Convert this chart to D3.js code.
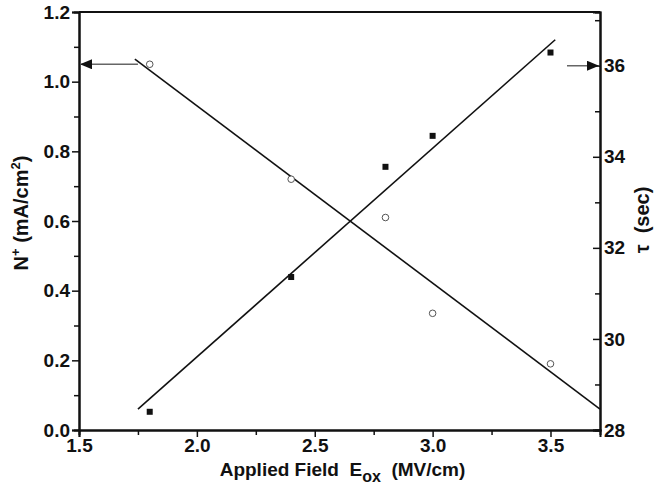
<!DOCTYPE html>
<html>
<head>
<meta charset="utf-8">
<script src="https://cdn.jsdelivr.net/npm/d3@7"></script>
<style>
body { margin: 0; background: #fff; }
svg { font-family: "Liberation Sans", Arial, sans-serif; }
</style>
</head>
<body>
<div id="chart"></div>
<script>
// data
var fieldX = [1.8, 2.4, 2.8, 3.0, 3.5];
var nPlus = [1.05, 0.72, 0.61, 0.335, 0.19];      // open circles, left axis
var tau = [28.4, 31.36, 33.78, 34.46, 36.29];     // filled squares, right axis
var nFit = [[1.737, 1.065], [3.71, 0.06]];        // fit line for N+
var tauFit = [[1.75, 28.46], [3.52, 36.57]];      // fit line for tau
var xTicks = [1.5, 2.0, 2.5, 3.0, 3.5];
var yLeftTicks = [0.0, 0.2, 0.4, 0.6, 0.8, 1.0, 1.2];
var yRightTicks = [28, 30, 32, 34, 36];

var width = 656, height = 493;
var margin = {top: 12, right: 56, bottom: 63, left: 79};
var w = width - margin.left - margin.right;
var h = height - margin.top - margin.bottom;

var svg = d3.select("#chart").append("svg")
    .attr("width", width)
    .attr("height", height);

var g = svg.append("g").attr("transform", "translate(" + margin.left + "," + margin.top + ")");

var x = d3.scaleLinear().domain([1.5, 3.71]).range([0, w]);
var yL = d3.scaleLinear().domain([0, 1.2]).range([h, 0]);
var yR = d3.scaleLinear().domain([28, 37.18]).range([h, 0]);

// minor ticks
var xMinor = d3.range(1.75, 3.71, 0.5);
var yLMinor = d3.range(0.1, 1.2, 0.2);
var yRMinor = d3.range(29, 37.1, 2);

g.append("g").attr("transform", "translate(0," + h + ")")
    .call(d3.axisBottom(x).tickValues(xMinor).tickSize(5).tickFormat(""));
g.append("g").attr("transform", "translate(0," + h + ")")
    .call(d3.axisBottom(x).tickValues(xTicks).tickSize(7).tickPadding(2).tickFormat(d3.format(".1f")));

g.append("g").call(d3.axisLeft(yL).tickValues(yLMinor).tickSize(5).tickFormat(""));
g.append("g").call(d3.axisLeft(yL).tickValues(yLeftTicks).tickSize(7).tickPadding(2).tickFormat(d3.format(".1f")));

g.append("g").attr("transform", "translate(" + w + ",0)")
    .call(d3.axisRight(yR).tickValues(yRMinor).tickSize(-5).tickFormat(""));
g.append("g").attr("transform", "translate(" + w + ",0)")
    .call(d3.axisRight(yR).tickValues(yRightTicks).tickSize(-7).tickPadding(4).tickFormat(d3.format("d")));

// top frame line
g.append("line").attr("x1", 0).attr("x2", w).attr("y1", 0).attr("y2", 0)
    .attr("stroke", "#111").attr("stroke-width", 2);

g.selectAll(".domain").attr("stroke", "#111").attr("stroke-width", 2);
g.selectAll(".tick line").attr("stroke", "#111").attr("stroke-width", 1.5);
g.selectAll(".tick text")
    .attr("fill", "#111")
    .style("font-size", "19px")
    .style("font-weight", "bold");

// fit lines
g.append("line")
    .attr("x1", x(nFit[0][0])).attr("y1", yL(nFit[0][1]))
    .attr("x2", x(nFit[1][0])).attr("y2", yL(nFit[1][1]))
    .attr("stroke", "#111").attr("stroke-width", 1.6);
g.append("line")
    .attr("x1", x(tauFit[0][0])).attr("y1", yR(tauFit[0][1]))
    .attr("x2", x(tauFit[1][0])).attr("y2", yR(tauFit[1][1]))
    .attr("stroke", "#111").attr("stroke-width", 1.6);

// points
g.selectAll("circle.n").data(fieldX).enter().append("circle")
    .attr("class", "n")
    .attr("cx", function(d) { return x(d); })
    .attr("cy", function(d, i) { return yL(nPlus[i]); })
    .attr("r", 3.3)
    .attr("fill", "#fff")
    .attr("stroke", "#555")
    .attr("stroke-width", 1);

g.selectAll("rect.t").data(fieldX).enter().append("rect")
    .attr("class", "t")
    .attr("x", function(d) { return x(d) - 3; })
    .attr("y", function(d, i) { return yR(tau[i]) - 3; })
    .attr("width", 6).attr("height", 6)
    .attr("fill", "#111");

// arrows pointing to the axes
svg.append("defs").append("marker")
    .attr("id", "head")
    .attr("viewBox", "0 0 12 10")
    .attr("refX", 12).attr("refY", 5)
    .attr("markerWidth", 12).attr("markerHeight", 10)
    .attr("markerUnits", "userSpaceOnUse")
    .attr("orient", "auto")
    .append("path").attr("d", "M0,0L12,5L0,10Z").attr("fill", "#111");

g.append("line")
    .attr("x1", x(1.75)).attr("y1", yL(1.05))
    .attr("x2", 1).attr("y2", yL(1.05))
    .attr("stroke", "#666").attr("stroke-width", 1.5)
    .attr("marker-end", "url(#head)");
g.append("line")
    .attr("x1", x(3.57)).attr("y1", yR(36.0))
    .attr("x2", w - 1).attr("y2", yR(36.0))
    .attr("stroke", "#666").attr("stroke-width", 1.5)
    .attr("marker-end", "url(#head)");

// axis titles
var xt = svg.append("text")
    .attr("x", margin.left + w / 2 + 3).attr("y", 476)
    .attr("text-anchor", "middle")
    .style("font-size", "19px").style("font-weight", "bold").attr("fill", "#111")
    .style("white-space", "pre");
xt.append("tspan").text("Applied Field  E");
xt.append("tspan").attr("dy", 6).style("font-size", "16px").text("ox");
xt.append("tspan").attr("dy", -6).text("  (MV/cm)");

var yt = svg.append("text")
    .attr("transform", "translate(28,213) rotate(-90)")
    .attr("text-anchor", "middle")
    .style("font-size", "20px").style("font-weight", "bold").attr("fill", "#111")
    .style("white-space", "pre");
yt.append("tspan").text("N");
yt.append("tspan").attr("dy", -8).style("font-size", "13px").text("+");
yt.append("tspan").attr("dy", 8).text(" (mA/cm");
yt.append("tspan").attr("dy", -8).style("font-size", "13px").text("2");
yt.append("tspan").attr("dy", 8).text(")");

svg.append("text")
    .attr("transform", "translate(649,220) rotate(-90)")
    .attr("text-anchor", "middle")
    .style("font-size", "20px").style("font-weight", "bold").attr("fill", "#111")
    .style("white-space", "pre")
    .text("τ  (sec)");
</script>
</body>
</html>
